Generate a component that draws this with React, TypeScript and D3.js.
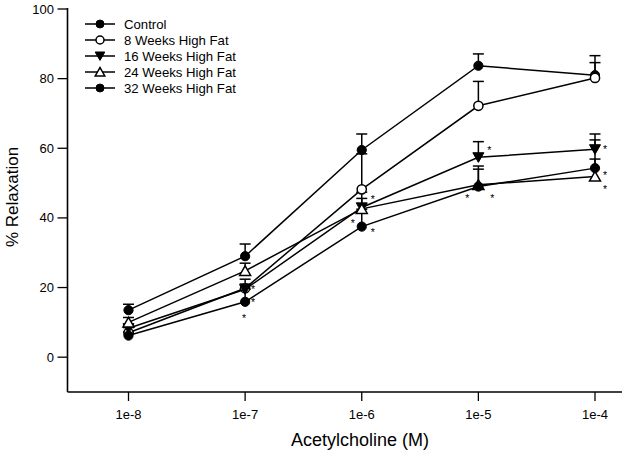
import React from 'react';
import * as d3 from 'd3';

const doseLabels = ['1e-8', '1e-7', '1e-6', '1e-5', '1e-4'];
const doseValues = [1e-8, 1e-7, 1e-6, 1e-5, 1e-4];
const yTicks = [0, 20, 40, 60, 80, 100];

const seriesNames = ['Control', '8 Weeks High Fat', '16 Weeks High Fat', '24 Weeks High Fat', '32 Weeks High Fat'];
const seriesSymbols = ['circleFilled', 'circleOpen', 'triDown', 'triUp', 'circleFilled'];

const controlMean = [13.5, 29.0, 59.5, 83.7, 81.0];
const controlSem = [1.7, 3.5, 4.6, 3.4, 5.6];
const wk8Mean = [7.0, 19.8, 48.2, 72.2, 80.2];
const wk8Sem = [1.5, 2.6, 10.2, 7.0, 4.4];
const wk16Mean = [8.3, 19.5, 43.0, 57.4, 59.7];
const wk16Sem = [1.0, 1.5, 4.4, 4.5, 4.4];
const wk24Mean = [10.0, 24.8, 42.6, 49.5, 51.9];
const wk24Sem = [1.4, 2.2, 3.0, 4.5, 5.0];
const wk32Mean = [6.2, 15.9, 37.5, 49.0, 54.3];
const wk32Sem = [1.0, 3.6, 5.0, 5.9, 8.1];

const means = [controlMean, wk8Mean, wk16Mean, wk24Mean, wk32Mean];
const sems = [controlSem, wk8Sem, wk16Sem, wk24Sem, wk32Sem];

// significance asterisks: [dose index, value, horizontal side offset]
const asterisks: [number, number, number][] = [
  [1, 20.1, 8], [1, 16.4, 8], [1, 11.8, -1],
  [2, 46.0, 11], [2, 39.1, -9], [2, 36.5, 11],
  [3, 60.1, 11], [3, 46.3, -11], [3, 46.3, 14],
  [4, 60.4, 10], [4, 52.9, 10], [4, 49.0, 10],
];

const FONT = '"Liberation Sans", Arial, Helvetica, sans-serif';

function Marker({ type, x, y, r }: { type: string; x: number; y: number; r: number }) {
  if (type === 'circleFilled') return <circle cx={x} cy={y} r={r} fill="#000" stroke="#000" strokeWidth={1} />;
  if (type === 'circleOpen') return <circle cx={x} cy={y} r={r} fill="#fff" stroke="#000" strokeWidth={1.5} />;
  const w = r * 1.2;
  const h = r * 1.0;
  if (type === 'triDown') {
    const p = `M${x - w},${y - h}L${x + w},${y - h}L${x},${y + h * 1.1}Z`;
    return <path d={p} fill="#000" stroke="#000" strokeWidth={1} />;
  }
  const p = `M${x - w},${y + h}L${x + w},${y + h}L${x},${y - h * 1.1}Z`;
  return <path d={p} fill="#fff" stroke="#000" strokeWidth={1.5} />;
}

export default function App() {
  const W = 625, H = 454;
  const axisLeft = 67.5, axisRight = 622, axisBottom = 392, axisTop = 8;
  const x = d3.scaleLog().domain([1e-8, 1e-4]).range([128.5, 595]);
  const y = d3.scaleLinear().domain([-10, 100]).range([392, 9]);
  const line = d3.line<number>().x((_, i) => x(doseValues[i])).y((d) => y(d));
  const cap = 5.5;

  return (
    <svg width={W} height={H} style={{ position: 'absolute', left: 0, top: 0, background: '#fff' }} fontFamily={FONT}>
      <rect width={W} height={H} fill="#fff" />
      {/* axes */}
      <line x1={axisLeft} y1={axisTop} x2={axisLeft} y2={axisBottom} stroke="#000" strokeWidth={1.6} />
      <line x1={axisLeft} y1={axisBottom} x2={axisRight} y2={axisBottom} stroke="#000" strokeWidth={1.6} />
      {yTicks.map((t) => (
        <g key={t}>
          <line x1={axisLeft - 10} x2={axisLeft} y1={y(t)} y2={y(t)} stroke="#000" strokeWidth={1.3} />
          <text x={54} y={y(t) + 4.5} textAnchor="end" fontSize={13}>{t}</text>
        </g>
      ))}
      {doseValues.map((d, i) => (
        <g key={d}>
          <line x1={x(d)} x2={x(d)} y1={axisBottom} y2={axisBottom + 9} stroke="#000" strokeWidth={1.3} />
          <text x={x(d)} y={419} textAnchor="middle" fontSize={13}>{doseLabels[i]}</text>
        </g>
      ))}
      <text x={360} y={446} textAnchor="middle" fontSize={18}>Acetylcholine (M)</text>
      <text transform="translate(18,197) rotate(-90)" textAnchor="middle" fontSize={17}>% Relaxation</text>

      {/* error bars */}
      {means.map((m, s) => (
        <g key={'e' + s}>
          {m.map((v, i) => {
            const cx = x(doseValues[i]);
            const top = y(v + sems[s][i]);
            return (
              <g key={i}>
                <line x1={cx} x2={cx} y1={y(v)} y2={top} stroke="#000" strokeWidth={1.5} />
                <line x1={cx - cap} x2={cx + cap} y1={top} y2={top} stroke="#000" strokeWidth={1.5} />
              </g>
            );
          })}
        </g>
      ))}
      {/* lines and markers */}
      {means.map((m, s) => (
        <g key={'s' + s}>
          <path d={line(m) || ''} fill="none" stroke="#000" strokeWidth={1.5} />
          {m.map((v, i) => (
            <Marker key={i} type={seriesSymbols[s]} x={x(doseValues[i])} y={y(v)} r={4.6} />
          ))}
        </g>
      ))}
      {/* asterisks */}
      {asterisks.map(([di, v, dx], k) => (
        <text key={'a' + k} x={x(doseValues[di]) + dx} y={y(v) + 6} textAnchor="middle" fontSize={10.5}>*</text>
      ))}
      {/* legend */}
      {seriesNames.map((n, i) => {
        const ly = 24 + i * 16;
        return (
          <g key={n}>
            <line x1={85} x2={115} y1={ly} y2={ly} stroke="#000" strokeWidth={1.5} />
            <Marker type={seriesSymbols[i]} x={100} y={ly} r={4} />
            <text x={124} y={ly + 5} fontSize={13.2}>{n}</text>
          </g>
        );
      })}
    </svg>
  );
}
